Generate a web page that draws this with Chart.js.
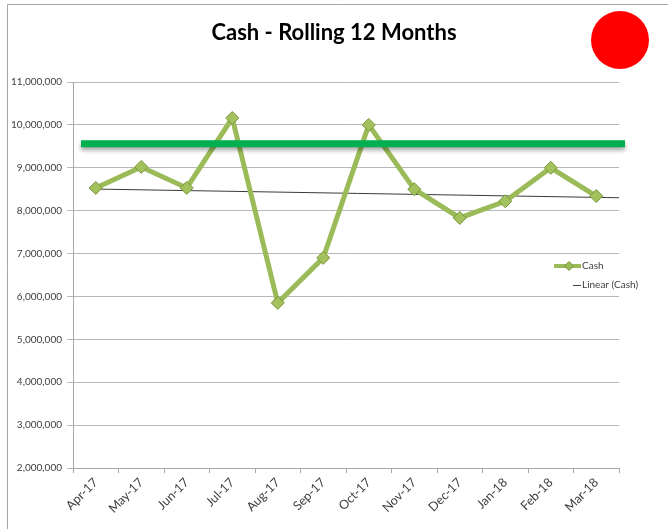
<!DOCTYPE html>
<html><head><meta charset="utf-8">
<script src="https://cdn.jsdelivr.net/npm/chart.js@4/dist/chart.umd.min.js"></script>
<style>html,body{margin:0;padding:0;background:#fff;}</style>
</head><body>
<canvas id="c" width="668" height="529"></canvas>
<script>
// ---- data ----
const months = ['Apr-17','May-17','Jun-17','Jul-17','Aug-17','Sep-17','Oct-17','Nov-17','Dec-17','Jan-18','Feb-18','Mar-18'];
const cash = [8530000, 9020000, 8530000, 10160000, 5850000, 6900000, 10000000, 8500000, 7830000, 8220000, 9000000, 8340000];
const targetValue = 9560000;
const yMin = 2000000, yMax = 11000000, yStep = 1000000;
const chartTitle = 'Cash - Rolling 12 Months';
const seriesNames = ['Cash', 'Linear (Cash)'];

// Linear trendline (least squares on cash), as Excel's "Linear (Cash)"
const n = cash.length;
const mx = (n - 1) / 2;
const my = cash.reduce((a, b) => a + b, 0) / n;
let sxy = 0, sxx = 0;
cash.forEach((v, i) => { sxy += (i - mx) * (v - my); sxx += (i - mx) * (i - mx); });
const slope = sxy / sxx, icpt = my - slope * mx;
const trendX = [0, n - 0.5];
const trend = trendX.map(x => ({x: x, y: icpt + slope * x}));

const FONT = 'Lato';

const decor = {
  id: 'decor',
  beforeDraw(chart) {
    const ctx = chart.ctx;
    ctx.save();
    ctx.fillStyle = '#fff';
    ctx.fillRect(0, 0, chart.width, chart.height);
    ctx.strokeStyle = '#a6a6a6';
    ctx.lineWidth = 1;
    ctx.beginPath();
    ctx.moveTo(7.5, chart.height); ctx.lineTo(7.5, 4.5); ctx.lineTo(chart.width, 4.5);
    ctx.stroke();
    ctx.restore();
  },
  afterDatasetsDraw(chart) {
    const ctx = chart.ctx, ca = chart.chartArea;
    const y = chart.scales.y.getPixelForValue(targetValue);
    ctx.save();
    ctx.strokeStyle = '#00b050';
    ctx.lineWidth = 7;
    ctx.shadowColor = 'rgba(0,0,0,0.35)';
    ctx.shadowBlur = 4;
    ctx.shadowOffsetY = 3;
    ctx.beginPath();
    ctx.moveTo(ca.left + 8, y);
    ctx.lineTo(ca.right + 6, y);
    ctx.stroke();
    ctx.restore();
  },
  afterDraw(chart) {
    const ctx = chart.ctx, ca = chart.chartArea;
    ctx.save();
    // status indicator
    ctx.fillStyle = '#ff0000';
    ctx.beginPath();
    ctx.arc(620, 40, 29, 0, Math.PI * 2);
    ctx.fill();
    // legend
    const tx = ca.right - 37;
    const cy = (ca.top + ca.bottom) / 2;
    const y1 = cy - 9, y2 = cy + 10;
    ctx.strokeStyle = '#9bbb59';
    ctx.lineWidth = 4;
    ctx.beginPath(); ctx.moveTo(tx - 28, y1); ctx.lineTo(tx - 1, y1); ctx.stroke();
    ctx.fillStyle = '#9bbb59';
    ctx.strokeStyle = '#7a963a';
    ctx.lineWidth = 1;
    const dx = tx - 13, r = 4.5;
    ctx.beginPath(); ctx.moveTo(dx, y1 - r); ctx.lineTo(dx + r, y1); ctx.lineTo(dx, y1 + r); ctx.lineTo(dx - r, y1); ctx.closePath();
    ctx.fill(); ctx.stroke();
    ctx.strokeStyle = '#404040';
    ctx.beginPath(); ctx.moveTo(tx - 9, y2 + 0.5); ctx.lineTo(tx - 1, y2 + 0.5); ctx.stroke();
    ctx.fillStyle = '#404040';
    ctx.font = '10px ' + FONT;
    ctx.textBaseline = 'middle';
    ctx.textAlign = 'left';
    ctx.fillText(chart.data.datasets[0].label, tx, y1);
    ctx.fillText(chart.data.datasets[1].label, tx, y2);
    ctx.restore();
  }
};

new Chart(document.getElementById('c'), {
  type: 'line',
  data: {
    labels: months,
    datasets: [
      {
        label: seriesNames[0], data: cash,
        borderColor: '#9bbb59', borderWidth: 5,
        pointStyle: 'rectRot', pointRadius: 6.5, pointHoverRadius: 6.5,
        pointBackgroundColor: '#a3c25e', pointBorderColor: '#7a963a', pointBorderWidth: 1,
        tension: 0, order: 0
      },
      {
        label: seriesNames[1], data: trend, xAxisID: 'xt',
        borderColor: '#3a3a3a', borderWidth: 1, pointRadius: 0, tension: 0, order: 1
      }
    ]
  },
  options: {
    responsive: false,
    animation: false,
    events: [],
    layout: { padding: 0 },
    plugins: {
      legend: { display: false },
      tooltip: { enabled: false },
      title: {
        display: true, text: chartTitle, color: '#000',
        font: { family: FONT, size: 22, weight: 'bold', lineHeight: 1.2 },
        padding: { top: 20, bottom: 35.6 }
      }
    },
    scales: {
      x: {
        type: 'category', offset: true,
        grid: { drawOnChartArea: false, drawTicks: true, tickLength: 5, offset: true, color: '#a6a6a6' },
        border: { color: '#a6a6a6' },
        ticks: { minRotation: 45, maxRotation: 45, color: '#404040', padding: 2, font: { family: FONT, size: 12.5 } },
        afterFit: s => { s.height = 61; }
      },
      xt: { type: 'linear', display: false, min: -0.5, max: n - 0.5 },
      y: {
        min: yMin, max: yMax,
        ticks: { stepSize: yStep, color: '#404040', padding: 5, font: { family: FONT, size: 10 },
          callback: v => v.toLocaleString('en-US') },
        grid: { color: '#b8b8b8', tickLength: 6 },
        border: { color: '#a6a6a6' },
        afterFit: s => { s.width = 73; }
      },
      yr: {
        position: 'right', display: true,
        ticks: { display: false }, grid: { display: false }, border: { display: false },
        afterFit: s => { s.width = 49; }
      }
    }
  },
  plugins: [decor]
});
</script>
</body></html>
